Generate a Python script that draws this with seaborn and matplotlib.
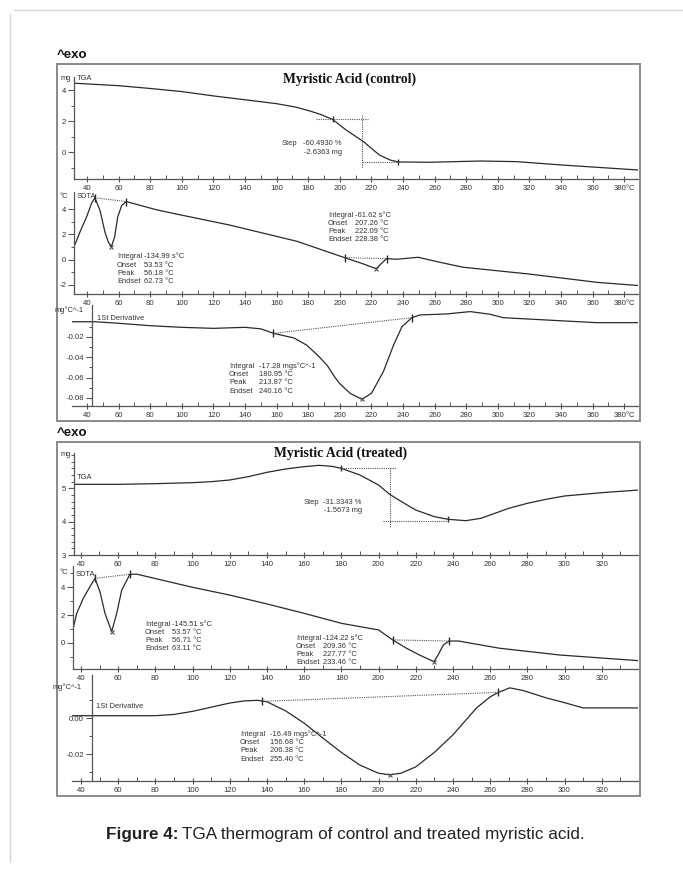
import matplotlib
matplotlib.use('Agg')
import matplotlib.pyplot as plt
from matplotlib.patches import Rectangle
from matplotlib.lines import Line2D
from matplotlib.ticker import FixedLocator, MultipleLocator
import seaborn as sns

# --- Data ---
# control: TGA (mg)
ctrl_tga_t = [32, 60, 80, 100, 120, 140, 160, 172, 181, 188, 195.5, 204, 215, 225, 232, 237,
              257, 289, 312, 341, 389]
ctrl_tga_mg = [4.44, 4.28, 4.10, 3.90, 3.62, 3.37, 3.12, 2.90, 2.65, 2.42, 2.10, 1.42, 0.67, -0.19,
               -0.52, -0.64, -0.66, -0.58, -0.62, -0.84, -1.16]
# control: SDTA (°C)
ctrl_sdta_t = [31.2, 33.4, 35.6, 39.8, 42.9, 45, 48.2, 51.4, 53.5, 55.5, 57.5, 59.5, 62, 65, 84, 99,
               130, 173, 203, 215, 223, 226, 229.6, 236, 249.6, 263, 278, 320, 363, 389]
ctrl_sdta_v = [0.88, 1.5, 2.2, 3.4, 4.46, 4.9, 3.92, 2.18, 1.4, 1.04, 1.8, 3.4, 4.3, 4.6, 3.95, 3.55,
               2.75, 1.45, 0.16, -0.34, -0.72, -0.34, 0.08, 0.03, 0.19, -0.2, -0.6, -1.14, -1.8, -2.05]
# control: 1st derivative (mg°C^-1)
ctrl_der_t = [30.5, 45, 60, 80, 100, 120, 140, 150, 158, 171, 179, 186, 192, 197, 200, 206.5, 214,
              220, 227.6, 234, 239.3, 245.6, 250.8, 267.7, 282.5, 295, 303.4, 331, 362.6, 389]
ctrl_der_v = [-0.005, -0.005, -0.0065, -0.0089, -0.0105, -0.0115, -0.0105, -0.012, -0.0164, -0.021,
              -0.028, -0.038, -0.048, -0.060, -0.066, -0.0755, -0.0814, -0.0755, -0.054, -0.028,
              -0.0099, -0.001, 0.0017, 0.0027, 0.005, 0.0024, -0.001, -0.0033, -0.0059, -0.0059]

# treated: TGA (mg)
trt_tga_t = [36.8, 60, 80, 100, 110, 120, 130, 140, 150, 160, 168, 175, 180, 190, 200, 206, 213, 220,
             230, 237.5, 247, 255, 260, 270, 280, 290, 300, 320, 340]
trt_tga_mg = [5.12, 5.12, 5.14, 5.17, 5.2, 5.25, 5.35, 5.48, 5.58, 5.65, 5.69, 5.66, 5.6, 5.4, 5.1,
              4.82, 4.58, 4.35, 4.15, 4.07, 4.03, 4.1, 4.2, 4.4, 4.55, 4.67, 4.77, 4.87, 4.95]
# treated: SDTA (°C)
trt_sdta_t = [35.7, 37.7, 41.2, 44.8, 47.5, 50.2, 52.9, 56.5, 59.2, 61.9, 66.3, 70, 100, 120, 140,
              160, 180, 200, 207.6, 215, 222, 229.8, 232, 234.8, 238, 243, 265, 297.5, 340]
trt_sdta_v = [0.99, 2.12, 3.2, 4.04, 4.65, 3.68, 2.12, 0.8, 2.12, 3.8, 4.94, 4.95, 4.0, 3.44, 2.8,
              2.12, 1.4, 0.92, 0.2, -0.4, -0.89, -1.37, -0.89, -0.17, 0.12, 0.12, -0.4, -0.89, -1.3]
# treated: 1st derivative (mg°C^-1)
trt_der_t = [35.2, 60, 80, 90, 100, 110, 120, 128, 135, 140, 150, 160, 170, 180, 190, 200, 206, 212,
             220, 230, 240, 252.7, 260, 264.4, 270.6, 277.8, 290.3, 299.3, 310, 340]
trt_der_v = [0.0013, 0.0013, 0.0013, 0.002, 0.0037, 0.006, 0.0083, 0.0095, 0.0098, 0.009, 0.004,
             -0.0028, -0.011, -0.019, -0.026, -0.0305, -0.0314, -0.0305, -0.027, -0.019, -0.0093,
             0.0056, 0.0117, 0.0142, 0.0167, 0.0152, 0.0111, 0.0087, 0.0056, 0.0056]

# evaluation markers / baselines
ctrl_tga_marks = [(195.5, 2.10), (237, -0.64)]
ctrl_sdta_base1 = [(45, 4.9), (65, 4.6)]
ctrl_sdta_base2 = [(203, 0.16), (229.6, 0.08)]
ctrl_sdta_peaks = [(55.5, 1.04), (223, -0.72)]
ctrl_der_base = [(158, -0.0164), (245.6, -0.001)]
ctrl_der_peak = [(214, -0.0814)]
trt_tga_marks = [(180, 5.6), (237.5, 4.07)]
trt_sdta_base1 = [(47.5, 4.65), (66.3, 4.94)]
trt_sdta_base2 = [(207.6, 0.2), (238, 0.12)]
trt_sdta_peaks = [(56.5, 0.8), (229.8, -1.37)]
trt_der_base = [(137.2, 0.0092), (264.4, 0.0142)]
trt_der_peak = [(206, -0.0314)]

# step construction lines
ctrl_step = {'x': 214, 'y0': 2.39, 'y1': -1.03, 'top': (185, 217.8, 2.1), 'bot': (214, 237, -0.64)}
trt_step = {'x': 206, 'y0': 5.62, 'y1': 3.85, 'top': (180, 209.4, 5.6), 'bot': (202.4, 237.5, 4.03)}

ctrl_sdta_txt1 = ['-134.99 s°C', '53.53 °C', '56.18 °C', '62.73 °C']
ctrl_sdta_txt2 = ['-61.62 s°C', '207.26 °C', '222.09 °C', '228.38 °C']
ctrl_der_txt = ['-17.28 mgs°C^-1', '180.95 °C', '213.87 °C', '240.16 °C']
trt_sdta_txt1 = ['-145.51 s°C', '53.57 °C', '56.71 °C', '63.11 °C']
trt_sdta_txt2 = ['-124.22 s°C', '209.36 °C', '227.77 °C', '233.46 °C']
trt_der_txt = ['-16.49 mgs°C^-1', '156.68 °C', '206.38 °C', '255.40 °C']
row_names = ['Integral', 'Onset', 'Peak', 'Endset']

# --- Figure setup ---
sns.set_theme(style='white')
plt.rcParams['font.family'] = ['Liberation Sans', 'DejaVu Sans']

W, H = 683, 869
fig = plt.figure(figsize=(W / 100, H / 100), dpi=100)
fig.patch.set_facecolor('white')

LINE = '#2a2a2a'
AX = '#555555'
TXT = '#333333'
FS = 5.6     # tick labels
FS_ANN = 5.4  # annotation tables


def box(l, t, r, b):
    return [l / W, 1 - b / H, (r - l) / W, (b - t) / H]


def ftxt(x, y, s, **kw):
    kw.setdefault('fontsize', FS_ANN)
    kw.setdefault('color', TXT)
    kw.setdefault('va', 'center')
    fig.text(x / W, 1 - y / H, s, **kw)


def style_ax(ax, xlim, ylim, xticks, xlabels, ymaj, ylab, ymin, spine_x=None):
    ax.set_xlim(xlim)
    ax.set_ylim(ylim)
    ax.patch.set_alpha(0)
    ax.spines['top'].set_visible(False)
    ax.spines['right'].set_visible(False)
    for s in ['left', 'bottom']:
        ax.spines[s].set_color(AX)
        ax.spines[s].set_linewidth(0.9)
    if spine_x is not None:
        ax.spines['left'].set_position(('data', spine_x))
    ax.xaxis.set_major_locator(FixedLocator(xticks))
    ax.set_xticklabels(xlabels)
    ax.xaxis.set_minor_locator(MultipleLocator(10))
    ax.yaxis.set_major_locator(FixedLocator(ymaj))
    ax.set_yticklabels(ylab)
    ax.yaxis.set_minor_locator(FixedLocator(ymin))
    ax.tick_params(axis='x', which='major', direction='inout', length=5, width=0.8,
                   color=AX, labelsize=FS, labelcolor=TXT, pad=1.5, bottom=True)
    ax.tick_params(axis='x', which='minor', direction='in', length=3, width=0.7, color=AX, bottom=True)
    ax.tick_params(axis='y', which='major', direction='out', length=4, width=0.8,
                   color=AX, labelsize=FS, labelcolor=TXT, pad=1.5, left=True)
    ax.tick_params(axis='y', which='minor', direction='out', length=2.5, width=0.7, color=AX, left=True)
    ax.set_xlabel('')
    ax.set_ylabel('')
    ax.grid(False)


def curve(ax, t, v):
    sns.lineplot(x=t, y=v, ax=ax, color=LINE, linewidth=0.9, estimator=None, sort=False)


def baseline(ax, pts):
    xs, ys = zip(*pts)
    ax.plot(xs, ys, linestyle=(0, (1, 1)), color='#555555', linewidth=0.8)
    ax.plot(xs, ys, linestyle='none', marker='|', markersize=6, mew=1.0, color=LINE)


def peaks(ax, pts):
    xs, ys = zip(*pts)
    ax.plot(xs, ys, linestyle='none', marker='x', markersize=3, mew=0.8, color='#555555')


def step_lines(ax, st):
    kw = dict(linestyle=(0, (1, 1)), color='#555555', linewidth=0.8)
    ax.plot([st['x'], st['x']], [st['y0'], st['y1']], **kw)
    ax.plot(st['top'][:2], [st['top'][2]] * 2, **kw)
    ax.plot(st['bot'][:2], [st['bot'][2]] * 2, **kw)


def table(x, y, vals, dy=8.3, gap=27):
    for i, (n, v) in enumerate(zip(row_names, vals)):
        ftxt(x, y + i * dy, n)
        ftxt(x + gap, y + i * dy, v)


# page border
fig.add_artist(Line2D([10 / W, 10 / W], [1 - 14 / H, 1 - 862 / H], transform=fig.transFigure,
                      color='#d6d6d6', linewidth=1))
fig.add_artist(Line2D([14 / W, 1], [1 - 10 / H, 1 - 10 / H], transform=fig.transFigure,
                      color='#d6d6d6', linewidth=1))

# frames
for (l, t, r, b) in [(57, 64, 640, 421), (57, 442, 640, 796)]:
    fig.add_artist(Rectangle((l / W, 1 - b / H), (r - l) / W, (b - t) / H, transform=fig.transFigure,
                             fill=False, edgecolor='#8a8a8a', linewidth=1.4))

ftxt(57, 55, '^exo', fontsize=9.5, fontweight='bold', color='#111111')
ftxt(57, 433, '^exo', fontsize=9.5, fontweight='bold', color='#111111')

# ===================== control =====================
ct = list(range(40, 381, 20))
ct_lab = [str(v) for v in ct[:-1]] + ['380°C']

ax = fig.add_axes(box(74, 77, 638, 179))
curve(ax, ctrl_tga_t, ctrl_tga_mg)
step_lines(ax, ctrl_step)
xs, ys = zip(*ctrl_tga_marks)
ax.plot(xs, ys, linestyle='none', marker='|', markersize=4, mew=1.0, color=LINE)
style_ax(ax, (31.8, 388.7), (-1.74, 4.84), ct, ct_lab, [4, 2, 0], ['4', '2', '0'], [3, 1, -1])
ftxt(61, 78, 'mg')
ftxt(77, 78, 'TGA')
ftxt(282, 144, 'Step')
ftxt(303, 144, '-60.4930 %')
ftxt(304, 153, '-2.6363 mg')
ftxt(350, 79, 'Myristic Acid (control)', fontsize=9.8, fontweight='bold', ha='center',
     family=['Liberation Serif', 'DejaVu Serif'], color='#111111')

ax = fig.add_axes(box(74, 192, 638, 294))
curve(ax, ctrl_sdta_t, ctrl_sdta_v)
baseline(ax, ctrl_sdta_base1)
baseline(ax, ctrl_sdta_base2)
peaks(ax, ctrl_sdta_peaks)
style_ax(ax, (31.8, 388.7), (-2.72, 5.36), ct, ct_lab, [4, 2, 0, -2], ['4', '2', '0', '-2'],
         [3, 1, -1])
ftxt(60, 196, '°C')
ftxt(77, 196, 'SDTA')
table(117, 257, ctrl_sdta_txt1)
table(328, 215, ctrl_sdta_txt2)

ax = fig.add_axes(box(72, 305, 638, 406))
curve(ax, ctrl_der_t, ctrl_der_v)
baseline(ax, ctrl_der_base)
peaks(ax, ctrl_der_peak)
style_ax(ax, (30.5, 388.7), (-0.088, 0.0115), ct, ct_lab, [-0.02, -0.04, -0.06, -0.08],
         ['-0.02', '-0.04', '-0.06', '-0.08'], [-0.01, -0.03, -0.05, -0.07], spine_x=43.2)
ftxt(84, 310, 'mg°C^-1', ha='right')
ftxt(97, 318, '1St Derivative')
table(229, 366, ctrl_der_txt, dy=8.4, gap=30)

# ===================== treated =====================
tt = list(range(40, 341, 20))
tt_lab = [str(v) for v in tt[:-1]] + ['°C']

ax = fig.add_axes(box(74, 453, 638, 555))
curve(ax, trt_tga_t, trt_tga_mg)
step_lines(ax, trt_step)
xs, ys = zip(*trt_tga_marks)
ax.plot(xs, ys, linestyle='none', marker='|', markersize=4, mew=1.0, color=LINE)
style_ax(ax, (36.3, 339.5), (3.0, 6.06), tt, tt_lab, [5, 4, 3], ['5', '4', '3'],
         [3.2, 3.4, 3.6, 3.8, 4.2, 4.4, 4.6, 4.8, 5.2, 5.4, 5.6, 5.8, 6.0])
ftxt(61, 455, 'mg')
ftxt(77, 478, 'TGA')
ftxt(304, 502, 'Step')
ftxt(323, 502, '-31.3343 %')
ftxt(324, 511, '-1.5673 mg')
ftxt(341, 453, 'Myristic Acid (treated)', fontsize=9.8, fontweight='bold', ha='center',
     family=['Liberation Serif', 'DejaVu Serif'], color='#111111')

ax = fig.add_axes(box(73, 566, 638, 669))
curve(ax, trt_sdta_t, trt_sdta_v)
baseline(ax, trt_sdta_base1)
baseline(ax, trt_sdta_base2)
peaks(ax, trt_sdta_peaks)
style_ax(ax, (35.7, 339.5), (-1.9, 5.54), tt, tt_lab, [4, 2, 0], ['4', '2', '0'], [5, 3, 1, -1])
ftxt(59, 572, '°C')
ftxt(76, 574, 'SDTA')
table(145, 624, trt_sdta_txt1)
table(296, 638, trt_sdta_txt2)

ax = fig.add_axes(box(72, 675, 638, 781))
curve(ax, trt_der_t, trt_der_v)
baseline(ax, trt_der_base)
peaks(ax, trt_der_peak)
style_ax(ax, (35.2, 339.5), (-0.0348, 0.0238), tt, tt_lab, [0.0, -0.02], ['0.00', '-0.02'],
         [0.01, -0.01, -0.03], spine_x=45.75)
ftxt(82, 687, 'mg°C^-1', ha='right')
ftxt(96, 707, '1St Derivative')
table(240, 734, trt_der_txt, dy=8.4, gap=30)

# caption
ftxt(178, 835, 'Figure 4:', fontsize=12.3, fontweight='bold', ha='right', color='#222222')
ftxt(182, 835, 'TGA thermogram of control and treated myristic acid.', fontsize=12.3,
     ha='left', color='#222222')

fig.savefig('out.png', dpi=100, facecolor='white')
